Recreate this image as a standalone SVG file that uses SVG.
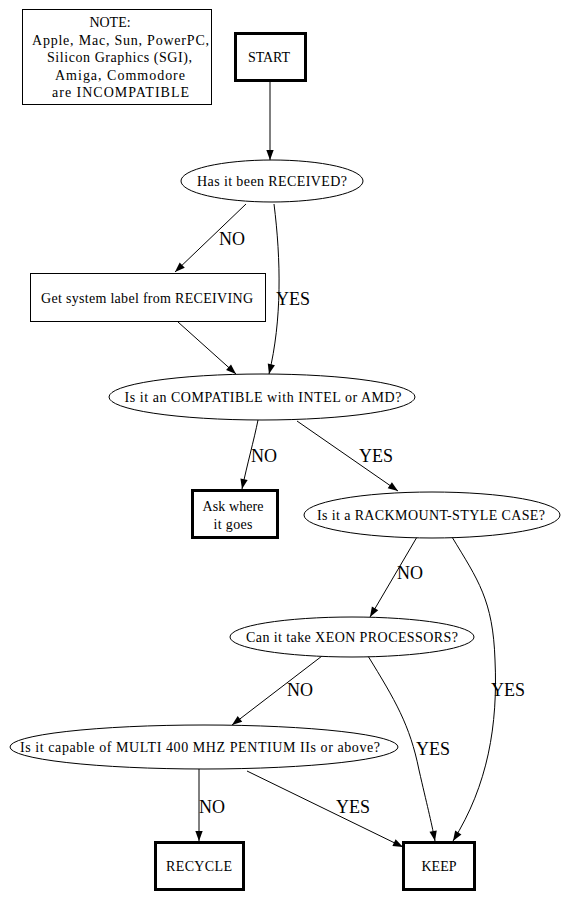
<svg xmlns="http://www.w3.org/2000/svg" width="572" height="898" viewBox="0 0 572 898">
<style>
text{fill:#000;text-anchor:middle}
.n{font-size:14px}
.l{font-size:18px}
.thin{fill:#fff;stroke:#000;stroke-width:1}
.thick{fill:#fff;stroke:#000;stroke-width:3}
.e{fill:none;stroke:#000;stroke-width:1}
</style>
<defs>
<marker id="ah" markerUnits="userSpaceOnUse" markerWidth="12" markerHeight="10" refX="11" refY="5" orient="auto">
<path d="M1,1.3 L11,5 L1,8.7 Z" fill="#000"/>
</marker>
</defs>
<rect width="572" height="898" fill="#fff"/>
<g font-family="'Liberation Serif', 'Times New Roman', 'DejaVu Serif', serif">
<g id="edges" class="e" marker-end="url(#ah)">
<path d="M270,81 L270,160"/>
<path d="M246,204 L175,272"/>
<path d="M274,204 C281,260 282,320 269,374"/>
<path d="M178,322 L236,374"/>
<path d="M258,420 C254,440 247,465 242,489"/>
<path d="M297,421 L398,491"/>
<path d="M417,537 L370,617"/>
<path d="M452,537 C478,580 493,600 495,660 C498,725 488,785 453,841"/>
<path d="M322,656 L232,725"/>
<path d="M368,656 C395,700 410,725 419,770 C427,805 431,820 435,841"/>
<path d="M199,769 L199,841"/>
<path d="M247,771 L403,847"/>
</g>
<g id="edge-labels" class="l">
<text x="232" y="245">NO</text>
<text x="293" y="305">YES</text>
<text x="264" y="462">NO</text>
<text x="376" y="462">YES</text>
<text x="410" y="579">NO</text>
<text x="300" y="696">NO</text>
<text x="508" y="696">YES</text>
<text x="433" y="755">YES</text>
<text x="212" y="813">NO</text>
<text x="353" y="813">YES</text>
</g>
<g id="note">
<rect class="thin" x="22.5" y="9.5" width="189" height="95"/>
<text class="n" x="110" y="27">NOTE:</text>
<text class="n" x="120.5" y="45" textLength="177">Apple, Mac, Sun, PowerPC,</text>
<text class="n" x="119.5" y="62" textLength="145">Silicon Graphics (SGI),</text>
<text class="n" x="120" y="80" textLength="130">Amiga, Commodore</text>
<text class="n" x="120.5" y="97" textLength="137">are INCOMPATIBLE</text>
</g>
<g id="start">
<rect class="thick" x="235.5" y="33.5" width="70" height="47"/>
<text class="n" x="269" y="62" textLength="42">START</text>
</g>
<g id="received">
<ellipse class="thin" cx="272" cy="181" rx="91" ry="21"/>
<text class="n" x="272" y="186" textLength="150">Has it been RECEIVED?</text>
</g>
<g id="getlabel">
<rect class="thin" x="30.5" y="273.5" width="235" height="48"/>
<text class="n" x="147" y="303" textLength="212">Get system label from RECEIVING</text>
</g>
<g id="compatible">
<ellipse class="thin" cx="262" cy="397" rx="153" ry="23"/>
<text class="n" x="263" y="402" textLength="277">Is it an COMPATIBLE with INTEL or AMD?</text>
</g>
<g id="ask">
<rect class="thick" x="192.5" y="490.5" width="85" height="47"/>
<text class="n" x="233" y="511" textLength="61">Ask where</text>
<text class="n" x="233" y="529" textLength="39">it goes</text>
</g>
<g id="rackmount">
<ellipse class="thin" cx="432" cy="515" rx="128" ry="23"/>
<text class="n" x="431" y="520" textLength="228">Is it a RACKMOUNT-STYLE CASE?</text>
</g>
<g id="xeon">
<ellipse class="thin" cx="352" cy="637" rx="122" ry="20"/>
<text class="n" x="352" y="642" textLength="212">Can it take XEON PROCESSORS?</text>
</g>
<g id="multi">
<ellipse class="thin" cx="204" cy="747" rx="194" ry="22"/>
<text class="n" x="200" y="752" textLength="360">Is it capable of MULTI 400 MHZ PENTIUM IIs or above?</text>
</g>
<g id="recycle">
<rect class="thick" x="155.5" y="842.5" width="88" height="47"/>
<text class="n" x="199" y="871" textLength="66">RECYCLE</text>
</g>
<g id="keep">
<rect class="thick" x="403.5" y="842.5" width="71" height="47"/>
<text class="n" x="439" y="871" textLength="35">KEEP</text>
</g>
</g>
</svg>
